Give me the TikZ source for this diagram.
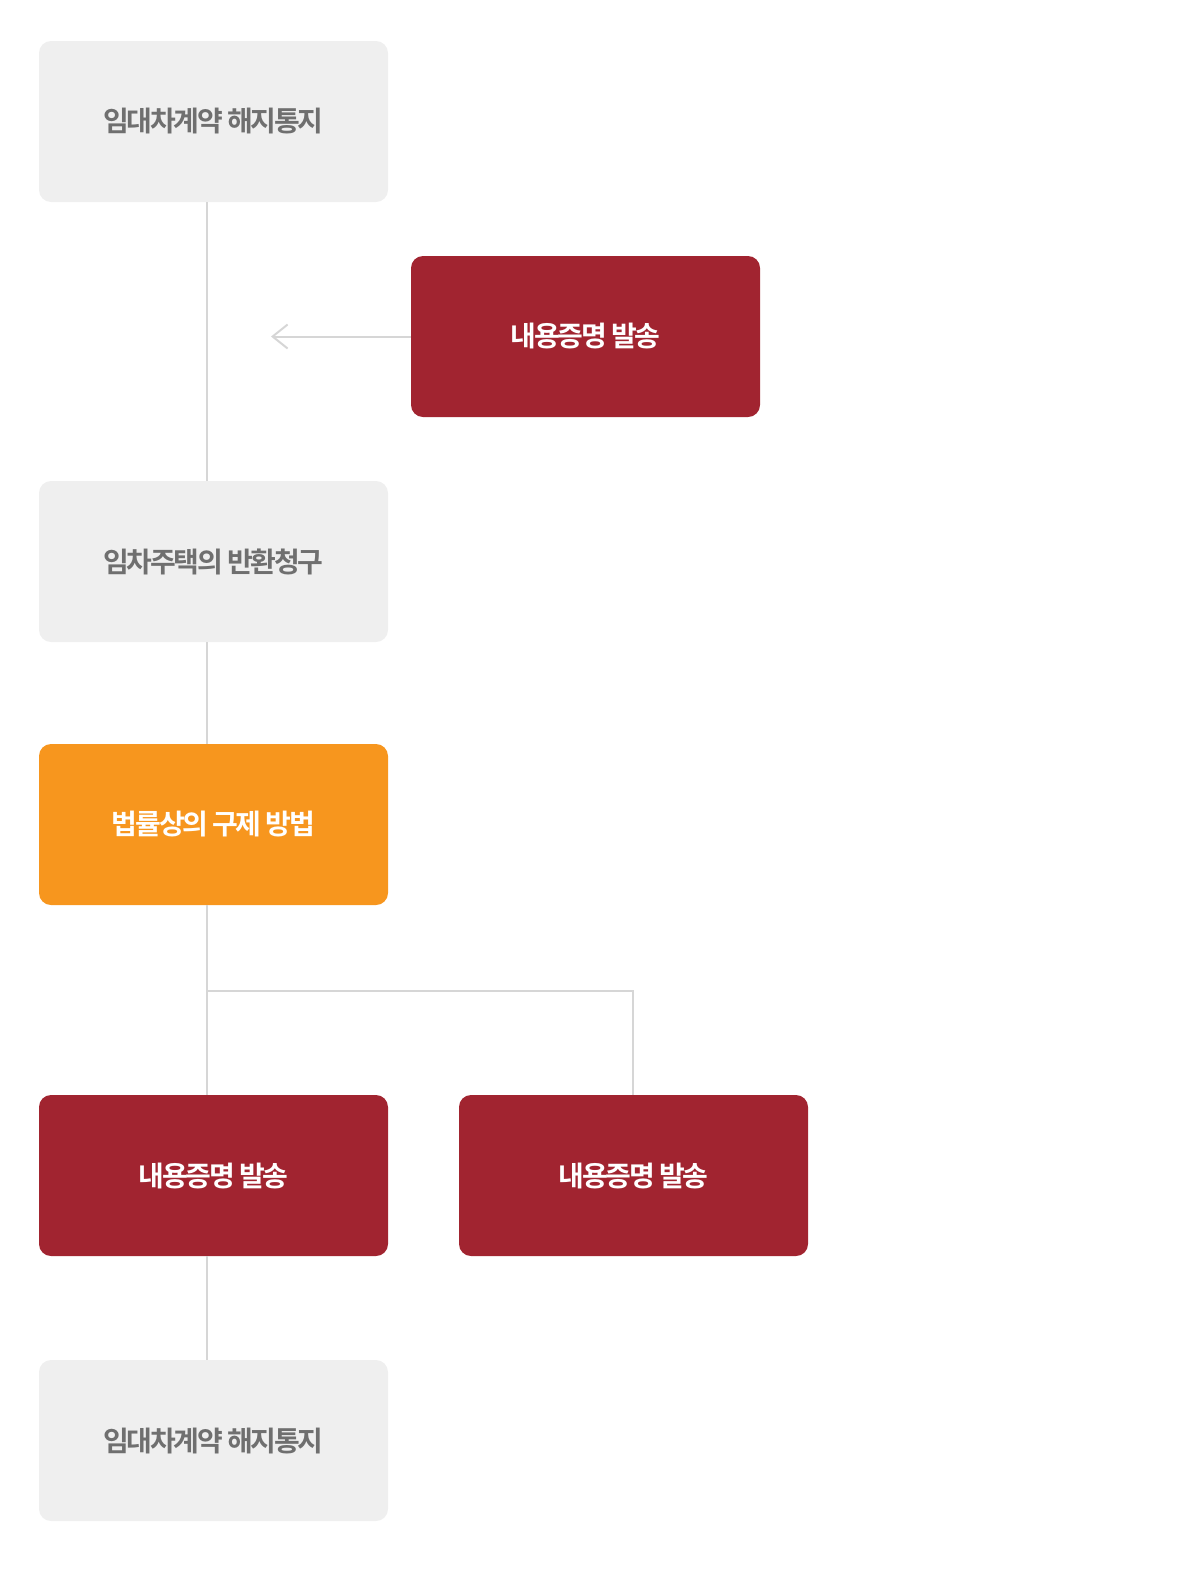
\documentclass[tikz,border=0pt]{standalone}
\usepackage{fontspec}
\newfontfamily\krfont[UprightFont={* Bold},LetterSpace=-8]{Noto Sans CJK KR}
\usetikzlibrary{arrows.meta}
\definecolor{boxgray}{HTML}{EFEFEF}
\definecolor{textgray}{HTML}{6F6F6F}
\definecolor{noticered}{HTML}{A12430}
\definecolor{remedyorange}{HTML}{F7961E}
\definecolor{linegray}{HTML}{D6D6D6}
\tikzset{
	% ------- every something
	every node/.style={
		font=\krfont\fontsize{28}{32}\selectfont,
	},
	% ------- custom
	stagebox/.style={
		rounded corners=12pt,
		minimum width=349pt,
		minimum height=161pt,
		inner sep=0pt,
	},
	plain stage/.style={
		stagebox,
		fill=boxgray,
		text=textgray,
	},
	notice stage/.style={
		stagebox,
		fill=noticered,
		text=white,
	},
	remedy stage/.style={
		stagebox,
		fill=remedyorange,
		text=white,
	},
	link/.style={
		line width=2pt,
		linegray,
	},
	back arrow/.style={
		link,
		-{Straight Barb[length=15pt,width=24pt,line width=2pt]},
	},
}

\begin{document}
\begin{tikzpicture}[x=1pt,y=-1pt]

% canvas %{{{2

	\useasboundingbox (0,0) rectangle (1200,1569);

% coordinates %{{{2

	\coordinate (spine) at (207,0);
	\coordinate (tip) at (271,0);
	\coordinate (split) at (207,991);
	\coordinate (splitR) at (633,991);

% stages %{{{2

	\node[plain stage] (notice1) at (213.5,121.5) {임대차계약 해지통지};
	\node[notice stage] (mail1) at (585.5,336.5) {내용증명 발송};
	\node[plain stage] (claim) at (213.5,561.5) {임차주택의 반환청구};
	\node[remedy stage] (remedy) at (213.5,824.5) {법률상의 구제 방법};
	\node[notice stage] (mail2) at (213.5,1175.5) {내용증명 발송};
	\node[notice stage] (mail3) at (633.5,1175.5) {내용증명 발송};
	\node[plain stage] (notice2) at (213.5,1440.5) {임대차계약 해지통지};

% links %{{{2

	\draw[link] (notice1.south -| spine) -- (claim.north -| spine);
	\draw[back arrow] (mail1.west) -- (mail1.west -| tip);
	\draw[link] (claim.south -| spine) -- (remedy.north -| spine);
	\draw[link] (remedy.south -| spine) -- (mail2.north -| spine);
	\draw[link] (split) -- (splitR) -- (mail3.north -| splitR);
	\draw[link] (mail2.south -| spine) -- (notice2.north -| spine);

% closing %{{{2

\end{tikzpicture}
\end{document}
